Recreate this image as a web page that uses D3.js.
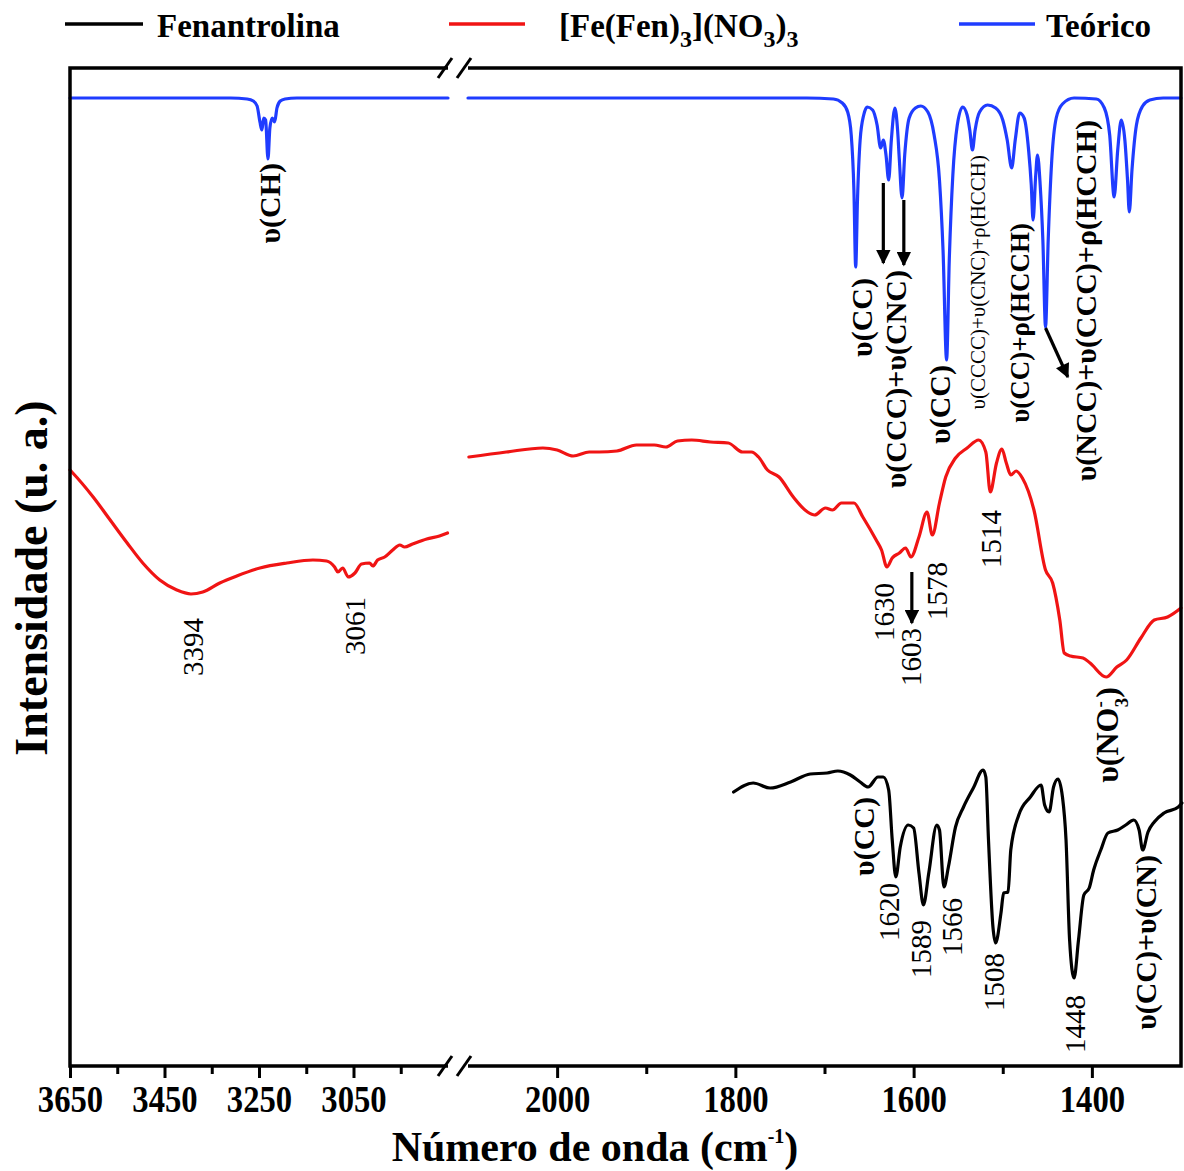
<!DOCTYPE html>
<html><head><meta charset="utf-8">
<script src="https://cdn.jsdelivr.net/npm/d3@7"></script>
<style>body{margin:0;background:#fff}svg{display:block}</style>
</head><body>
<svg id="chart" width="1184" height="1171"></svg>
<script>
// ---------------- DATA ----------------
const seriesNames = ["Fenantrolina", "[Fe(Fen)3](NO3)3", "Teórico"];
const leftDomain = [3650, 2850];
const rightDomain = [2100, 1300];
const majorTicksLeft = [3650, 3450, 3250, 3050];
const minorTicksLeft = [3550, 3350, 3150, 2950];
const majorTicksRight = [2000, 1800, 1600, 1400];
const minorTicksRight = [1900, 1700, 1500];

// Teórico (blue) – left segment
const teoLeftWn = [3650,3310,3275,3262,3254,3248,3244,3240,3236,3231,3227,3222,3217,3212,3205,3195,3170,2850];
const teoLeftI  = [96.8,96.8,96.7,96.5,96.0,94.4,93.6,94.8,94.6,90.7,93.8,94.8,94.4,95.8,96.5,96.7,96.8,96.8];
// Teórico (blue) – right segment
const teoRightWn = [2100,1720,1690,1680,1674,1670,1667,1665,1663,1660,1656,1652,1646,1641,1637,1634,1631,1628,1625,1621,1618,1616,1613,1610,1605,1598,1592,1584,1577,1571,1567,1563,1560,1556,1551,1545,1540,1537,1534,1531,1526,1517,1508,1500,1495,1490,1486,1481,1476,1471,1468,1466,1463,1461,1458,1455,1452,1449,1445,1440,1433,1420,1395,1386,1380,1375,1371,1367,1363,1360,1358,1355,1350,1343,1335,1320,1300];
const teoRightI  = [96.8,96.8,96.7,96.3,95.4,93.1,87.6,79.9,86.6,92.6,95.1,95.9,95.6,94.1,91.8,92.6,91.1,88.6,92.6,95.8,93.6,90.6,86.8,91.1,94.8,95.8,96.0,95.4,93.1,88.6,81.6,70.6,80.6,89.1,94.1,95.9,95.1,93.6,91.6,93.6,95.4,96.1,95.8,94.6,92.6,89.8,92.6,95.3,94.8,91.6,88.1,84.6,89.1,91.1,88.1,82.6,73.9,82.6,90.6,94.8,96.2,96.8,96.7,95.8,93.1,86.9,91.6,94.6,92.6,88.6,85.4,89.6,94.1,96.0,96.6,96.8,96.8];

// [Fe(Fen)3](NO3)3 (red) – left segment
const cpxLeftWn = [3650,3646,3601,3565,3529,3496,3460,3424,3394,3369,3333,3297,3248,3191,3136,3107,3090,3083,3073,3061,3047,3033,3016,3009,2999,2984,2967,2952,2942,2925,2895,2868,2851];
const cpxLeftI  = [59.6,59.4,56.9,54.6,52.3,50.3,48.6,47.6,47.2,47.4,48.3,49.0,49.8,50.3,50.6,50.5,49.9,49.4,49.8,48.9,49.3,50.2,50.3,50.0,50.6,50.9,51.6,52.1,51.9,52.2,52.7,53.0,53.3];
// red – right segment
const cpxRightWn = [2099,2057,2016,2000,1982,1964,1953,1933,1911,1891,1878,1865,1849,1828,1808,1792,1782,1774,1764,1751,1735,1719,1711,1699,1691,1681,1667,1657,1642,1636,1630,1624,1616,1609,1603,1594,1585,1579,1571,1564,1553,1540,1527,1519,1514,1507,1501,1496,1491,1485,1478,1465,1452,1444,1436,1431,1424,1410,1402,1384,1372,1361,1345,1330,1315,1300];
const cpxRightI  = [60.9,61.4,61.8,61.6,61.0,61.4,61.4,61.5,62.1,62.1,61.9,62.5,62.6,62.4,62.3,61.4,61.4,60.9,59.6,58.9,56.9,55.4,55.1,55.8,55.6,56.3,56.3,54.9,52.6,51.6,49.9,50.8,51.3,51.8,50.9,52.9,55.4,53.1,56.3,58.9,60.8,61.8,62.6,61.4,57.4,60.3,61.7,60.3,59.1,59.5,58.8,55.6,49.6,48.3,44.6,41.3,41.0,40.8,40.3,38.9,39.9,40.6,42.8,44.6,44.9,45.8];

// Fenantrolina (black) – right segment only
const fenWn = [1802,1780,1761,1738,1716,1697,1685,1671,1660,1651,1640,1634,1628,1624,1620,1615,1606,1600,1594,1589,1583,1574,1571,1566,1561,1553,1544,1533,1522,1519,1516,1511,1508,1502,1499,1494,1491,1482,1469,1457,1453,1448,1443,1438,1433,1429,1425,1420,1415,1409,1403,1398,1390,1382,1371,1362,1353,1347,1343,1337,1330,1319,1303,1299];
const fenI  = [27.4,28.3,27.8,28.4,29.2,29.3,29.5,29.1,28.4,27.9,28.9,28.9,27.6,22.6,18.9,21.9,24.1,23.8,19.3,16.1,19.3,24.1,23.6,17.9,19.9,23.9,25.9,27.8,29.6,28.9,22.6,13.9,12.3,15.3,17.3,17.4,21.6,25.1,26.9,28.1,26.1,25.4,27.9,28.7,26.9,22.6,12.6,8.8,12.6,17.1,17.8,19.6,21.6,23.3,23.6,24.1,24.6,23.6,21.6,23.4,24.4,25.3,25.9,26.3];

// Annotations
const bandLabels = [
  {parts:[["υ(CH)"]], wn:3227, top:90.3, size:30, bold:true},
  {parts:[["υ(CC)"]], wn:1658, top:78.8, size:30, bold:true},
  {parts:[["υ(CCC)+υ(CNC)"]], wn:1620, top:79.6, size:30, bold:true},
  {parts:[["υ(CC)"]], wn:1570, top:70.1, size:30, bold:true},
  {parts:[["υ(CCCC)+υ(CNC)+ρ(HCCH)"]], wn:1528, top:91.1, size:21, bold:false},
  {parts:[["υ(CC)+ρ(HCCH)"]], wn:1480, top:84.3, size:27, bold:true},
  {parts:[["υ(NCC)+υ(CCC)+ρ(HCCH)"]], wn:1407, top:94.6, size:30, bold:true},
  {parts:[["υ(NO"],["-","sup"],["3","sub"],[")"]], wn:1383, top:37.9, size:32, bold:true},
  {parts:[["υ(CC)"]], wn:1656, top:26.9, size:30, bold:true},
  {parts:[["υ(CC)+υ(CN)"]], wn:1339, top:21.1, size:30, bold:true}
];
const peakLabels = [
  ["3394", 3390, 44.8], ["3061", 3047, 46.9],
  ["1630", 1633, 48.3], ["1603", 1603, 43.8], ["1578", 1574, 50.4], ["1514", 1513, 55.6],
  ["1620", 1628, 18.3], ["1589", 1592, 14.6], ["1566", 1557, 16.8], ["1508", 1510, 11.3], ["1448", 1419, 7.1]
];
const arrows = [
  [1634, 88.3, 1634, 80.3], [1611, 86.6, 1611, 80.1],
  [1452, 73.8, 1427, 68.9], [1602, 49.4, 1602, 44.3]
];

// ---------------- CHART ----------------
const svg = d3.select("#chart");
const SERIF = "'Liberation Serif','Times New Roman',Times,serif";
const pTop = 68, pBottom = 1066, pLeft = 70, pRight = 1181;

const xL = d3.scaleLinear().domain(leftDomain).range([pLeft, 448]);
const xR = d3.scaleLinear().domain(rightDomain).range([468, pRight]);
const x = wn => wn > 2500 ? xL(wn) : xR(wn);
const y = d3.scaleLinear().domain([0, 99.8]).range([pBottom, pTop]);

const colors = {fen: "#000000", cpx: "#f01414", teo: "#1f3cff"};

function zip(a, b) { return a.map((v, i) => [v, b[i]]); }
const line = d3.line().x(d => x(d[0])).y(d => y(d[1])).curve(d3.curveMonotoneX);

const curves = [
  [zip(teoLeftWn, teoLeftI), colors.teo],
  [zip(teoRightWn, teoRightI), colors.teo],
  [zip(cpxLeftWn, cpxLeftI), colors.cpx],
  [zip(cpxRightWn, cpxRightI), colors.cpx],
  [zip(fenWn, fenI), colors.fen]
];
svg.append("g").selectAll("path").data(curves).join("path")
  .attr("d", d => line(d[0])).attr("fill", "none")
  .attr("stroke", d => d[1]).attr("stroke-width", 3.2)
  .attr("stroke-linejoin", "round").attr("stroke-linecap", "round");

// Frame with axis break
const frame = svg.append("g").attr("stroke", "#000").attr("stroke-width", 3.5).attr("fill", "none");
const bx0 = xL(leftDomain[1]), bx1 = xR(rightDomain[0]);
frame.append("path").attr("d",
  `M${bx0},${pTop}H${pLeft}V${pBottom}H${bx0}` +
  `M${bx1},${pBottom}H${pRight}V${pTop}H${bx1}`);
const bxm = (bx0 + bx1) / 2;
[pTop, pBottom].forEach(yy => {
  [[-20, -6], [-1, 13]].forEach(([a, b]) => {
    frame.append("line").attr("x1", bxm + a).attr("y1", yy + 10)
      .attr("x2", bxm + b).attr("y2", yy - 10).attr("stroke-width", 3);
  });
});

// Axes
function drawAxis(scale, majors, minors) {
  const gMaj = svg.append("g").attr("transform", `translate(0,${pBottom})`)
    .call(d3.axisBottom(scale).tickValues(majors).tickSize(12).tickFormat(d3.format("d")));
  const gMin = svg.append("g").attr("transform", `translate(0,${pBottom})`)
    .call(d3.axisBottom(scale).tickValues(minors).tickSize(8).tickFormat(""));
  [gMaj, gMin].forEach(g => {
    g.select(".domain").remove();
    g.selectAll(".tick line").attr("stroke", "#000").attr("stroke-width", 3);
  });
  gMaj.selectAll(".tick text").attr("y", 46).attr("dy", 0)
    .attr("transform", "scale(0.86,1)")
    .attr("font-family", SERIF).attr("font-weight", "bold")
    .attr("font-size", 38).attr("fill", "#000");
}
drawAxis(xL, majorTicksLeft, minorTicksLeft);
drawAxis(xR, majorTicksRight, minorTicksRight);

// Axis titles
const xt = svg.append("text").attr("x", 595).attr("y", 1161).attr("text-anchor", "middle")
  .attr("font-family", SERIF).attr("font-weight", "bold").attr("font-size", 42);
xt.append("tspan").text("Número de onda (cm");
xt.append("tspan").attr("font-size", 20).attr("dy", -18).text("-1");
xt.append("tspan").attr("dy", 18).text(")");

svg.append("text").attr("transform", "translate(47,578) rotate(-90)")
  .attr("text-anchor", "middle").attr("font-family", SERIF).attr("font-weight", "bold")
  .attr("font-size", 46).text("Intensidade (u. a.)");

// Legend
const legend = [
  {name: seriesNames[0], color: colors.fen, x1: 65, x2: 143, tx: 157},
  {name: seriesNames[1], color: colors.cpx, x1: 449, x2: 525, tx: 559},
  {name: seriesNames[2], color: colors.teo, x1: 959, x2: 1035, tx: 1046}
];
legend.forEach(l => {
  svg.append("line").attr("x1", l.x1).attr("x2", l.x2).attr("y1", 24).attr("y2", 24)
    .attr("stroke", l.color).attr("stroke-width", 3.5);
  const t = svg.append("text").attr("x", l.tx).attr("y", 37)
    .attr("font-family", SERIF).attr("font-weight", "bold").attr("font-size", 33);
  if (l.name.includes("[")) {
    const segs = [["[Fe(Fen)", 0], ["3", 1], ["](NO", -1], ["3", 1], [")", -1], ["3", 1]];
    segs.forEach(([s, shift]) => {
      const ts = t.append("tspan").text(s);
      if (shift === 1) ts.attr("font-size", 24).attr("dy", 10);
      else if (shift === -1) ts.attr("dy", -10);
    });
  } else t.text(l.name);
});

// Rotated band labels
const rot = (wn, v) => `translate(${x(wn)},${y(v)}) rotate(-90)`;
bandLabels.forEach(b => {
  const t = svg.append("text").attr("transform", rot(b.wn, b.top))
    .attr("text-anchor", "end").attr("dy", "0.33em")
    .attr("font-family", SERIF).attr("font-weight", b.bold ? "bold" : "normal")
    .attr("font-size", b.size);
  if (b.parts.length === 1) { t.text(b.parts[0][0]); return; }
  b.parts.forEach(([s, kind]) => {
    const ts = t.append("tspan").text(s);
    if (kind === "sup") ts.attr("font-size", 19).attr("dy", -12);
    else if (kind === "sub") ts.attr("font-size", 19).attr("dx", -6).attr("dy", 22);
    else if (s === ")") ts.attr("dy", -10);
  });
});
peakLabels.forEach(([s, wn, v]) => {
  svg.append("text").attr("transform", rot(wn, v))
    .attr("text-anchor", "end").attr("dy", "0.35em")
    .attr("font-family", SERIF).attr("font-size", 29).text(s);
});

// Arrows
const defs = svg.append("defs");
defs.append("marker").attr("id", "ah").attr("viewBox", "0 0 10 10")
  .attr("refX", 9).attr("refY", 5).attr("markerWidth", 5).attr("markerHeight", 4.5)
  .attr("markerUnits", "strokeWidth").attr("orient", "auto")
  .append("path").attr("d", "M0,0L10,5L0,10Z").attr("fill", "#000");
arrows.forEach(([w1, v1, w2, v2]) => {
  svg.append("line").attr("x1", x(w1)).attr("y1", y(v1)).attr("x2", x(w2)).attr("y2", y(v2))
    .attr("stroke", "#000").attr("stroke-width", 3.2).attr("marker-end", "url(#ah)");
});
</script>
</body></html>
